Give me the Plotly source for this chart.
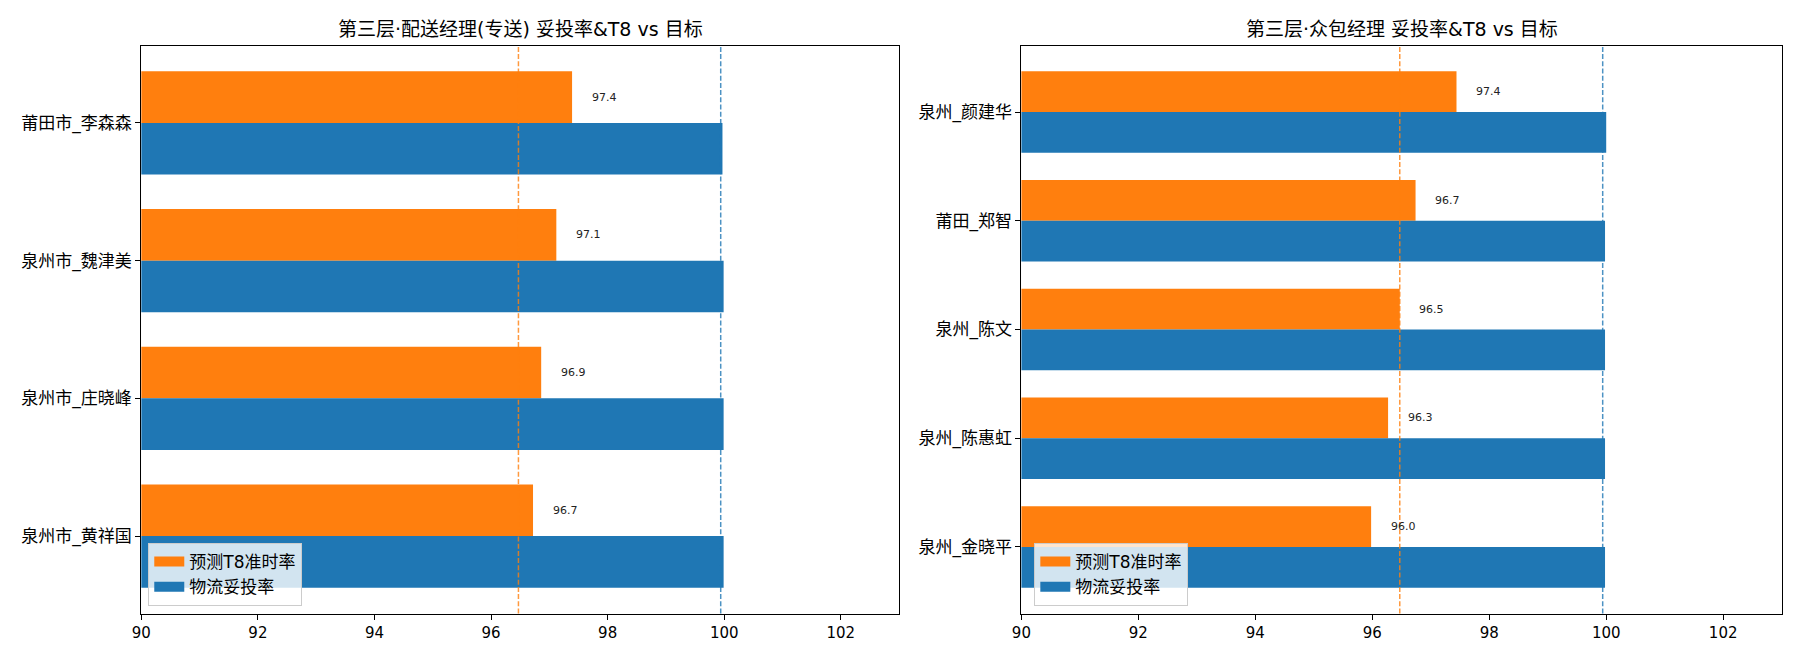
import plotly.graph_objects as go
from plotly.subplots import make_subplots

# 第三层·配送经理(专送), listed top -> bottom as displayed
names_zs = ['莆田市_李森森', '泉州市_魏津美', '泉州市_庄晓峰', '泉州市_黄祥国']
t8_zs = [97.39, 97.12, 96.86, 96.72]
tt_zs = [99.97, 99.99, 99.99, 99.99]

# 第三层·众包经理
names_zb = ['泉州_颜建华', '莆田_郑智', '泉州_陈文', '泉州_陈惠虹', '泉州_金晓平']
t8_zb = [97.44, 96.74, 96.47, 96.27, 95.98]
tt_zb = [100.0, 99.98, 99.98, 99.98, 99.98]

t8_target = 96.47
tt_target = 99.94

titles = ['第三层·配送经理(专送) 妥投率&T8 vs 目标', '第三层·众包经理 妥投率&T8 vs 目标']
x_ticks = [90, 92, 94, 96, 98, 100, 102]

ORANGE = '#ff7f0e'
BLUE = '#1f77b4'
FONT = 'DejaVu Sans, Noto Sans CJK SC, sans-serif'
W, H = 1800, 660
h = 0.375  # bar height (category units)

fig = make_subplots(rows=1, cols=2)

panels = [(names_zs, t8_zs, tt_zs), (names_zb, t8_zb, tt_zb)]
legend_x = [131 / W, 1022 / W]

for c, (names, t8, tt) in enumerate(panels, start=1):
    n = len(names)
    ys = [n - 1 - k for k in range(n)]
    leg = 'legend' if c == 1 else 'legend2'
    fig.add_trace(go.Bar(x=t8, y=ys, orientation='h', width=h, offset=0,
                         marker=dict(color=ORANGE, line=dict(width=0)),
                         name='预测T8准时率', showlegend=False, hoverinfo='x'),
                  row=1, col=c)
    fig.add_trace(go.Bar(x=tt, y=ys, orientation='h', width=h, offset=-h,
                         marker=dict(color=BLUE, line=dict(width=0)),
                         name='物流妥投率', showlegend=False, hoverinfo='x'),
                  row=1, col=c)
    # legend entries (wide patch look)
    for nm, col in [('预测T8准时率', ORANGE), ('物流妥投率', BLUE)]:
        fig.add_trace(go.Scatter(x=[None], y=[None], mode='lines', name=nm,
                                 line=dict(color=col, width=11), legend=leg),
                      row=1, col=c)

    # value labels next to orange bars
    xref = 'x' if c == 1 else 'x2'
    yref = 'y' if c == 1 else 'y2'
    for v, yy in zip(t8, ys):
        fig.add_annotation(x=v + 0.3, y=yy + h / 2, xref=xref, yref=yref,
                           text=f'{v:.1f}', showarrow=False, xanchor='left',
                           yanchor='middle', font=dict(size=11, color='#222222'))

    # target lines
    fig.add_vline(x=t8_target, line=dict(color='rgba(255,127,14,0.8)', width=1.5, dash='5px,2.2px'),
                  row=1, col=c)
    fig.add_vline(x=tt_target, line=dict(color='rgba(31,119,180,0.8)', width=1.5, dash='5px,2.2px'),
                  row=1, col=c)

    m = 0.05 * (n - 1 + 2 * h)
    fig.update_yaxes(range=[-h - m, n - 1 + h + m], tickvals=ys, ticktext=names,
                     row=1, col=c)

    # title
    fig.add_annotation(text=titles[c - 1], xref=f'{xref} domain', x=0.5,
                       yref='paper', y=1 - 21 / H, showarrow=False,
                       xanchor='center', yanchor='middle',
                       font=dict(size=19, color='black'))

fig.update_xaxes(range=[90, 103], tickvals=x_ticks, showgrid=False, zeroline=False,
                 showline=True, mirror=True, linecolor='black', linewidth=1.1,
                 ticks='outside', ticklen=5, tickwidth=1.1, tickcolor='black',
                 tickfont=dict(size=15, color='black'))
fig.update_yaxes(showgrid=False, zeroline=False,
                 showline=True, mirror=True, linecolor='black', linewidth=1.1,
                 ticks='outside', ticklen=5, tickwidth=1.1, tickcolor='black',
                 tickfont=dict(size=17, color='black'))

legend_style = dict(yanchor='bottom', y=1 - 598 / H, xanchor='left',
                    bgcolor='rgba(255,255,255,0.8)', bordercolor='#cccccc', borderwidth=1,
                    font=dict(size=17, color='black'), traceorder='normal')

fig.update_layout(
    autosize=False,
    width=W,
    height=H,
    margin=dict(l=0, r=0, t=0, b=0),
    plot_bgcolor='white',
    paper_bgcolor='white',
    barmode='overlay',
    font=dict(family=FONT, size=15, color='black'),
    xaxis=dict(domain=[124 / W, 886 / W]),
    xaxis2=dict(domain=[1009 / W, 1773.5 / W]),
    yaxis=dict(domain=[1 - 605.5 / H, 1 - 37.5 / H]),
    yaxis2=dict(domain=[1 - 605.5 / H, 1 - 37.5 / H]),
    legend=dict(x=legend_x[0], **legend_style),
    legend2=dict(x=legend_x[1], **legend_style),
)

fig.write_html("out.html")
